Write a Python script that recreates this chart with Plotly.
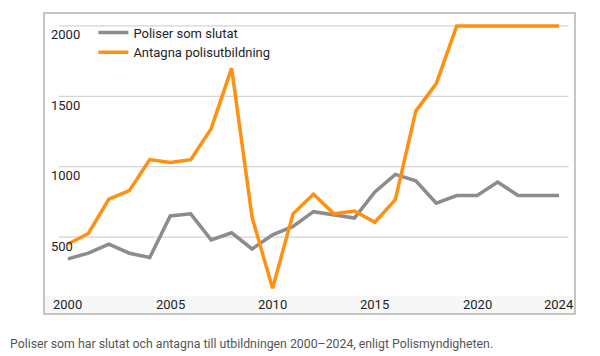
import plotly.graph_objects as go

years = list(range(2000, 2025))
slutat = [345, 385, 450, 385, 355, 650, 665, 480, 530, 415, 515, 575, 680, 660, 635, 820, 945, 900, 740, 795, 795, 890, 795, 795, 795]
antagna = [450, 525, 770, 830, 1050, 1030, 1050, 1270, 1700, 640, 135, 665, 805, 665, 685, 605, 765, 1395, 1590, 2000, 2000, 2000, 2000, 2000, 2000]

y_ticks = [500, 1000, 1500, 2000]
x_ticks = [2000, 2005, 2010, 2015, 2020, 2024]
caption = "Poliser som har slutat och antagna till utbildningen 2000\u20132024, enligt Polismyndigheten."

GRAY = "#8c8c8c"
ORANGE = "#ff9010"
FONT = "Roboto"

fig = go.Figure()
fig.add_trace(go.Scatter(x=years, y=slutat, mode="lines", name="Poliser som slutat",
                         line=dict(color=GRAY, width=3.5)))
fig.add_trace(go.Scatter(x=years, y=antagna, mode="lines", name="Antagna polisutbildning",
                         line=dict(color=ORANGE, width=3.5)))

shapes = []
shapes.append(dict(type="rect", xref="paper", yref="paper", x0=0, x1=1, y0=0, y1=0.06,
                   fillcolor="#f7f7f7", line=dict(width=0), layer="below"))
for v in y_ticks:
    shapes.append(dict(type="line", xref="paper", yref="y", x0=0.028, x1=0.988, y0=v, y1=v,
                       line=dict(color="#d4d4d4", width=1.3), layer="below"))
shapes.append(dict(type="rect", xref="paper", yref="paper", x0=0, x1=1, y0=0, y1=1,
                   line=dict(color="#b4b4b4", width=1.5)))

annotations = []
for v in y_ticks:
    annotations.append(dict(x=0.009, xref="paper", y=v, yref="y", text=str(v), showarrow=False,
                            xanchor="left", yanchor="middle", yshift=-9,
                            font=dict(family=FONT, size=13, color="#1e1e1e")))
for t in x_ticks:
    annotations.append(dict(x=t, xref="x", y=0.03, yref="paper", text=str(t), showarrow=False,
                            xanchor="center", yanchor="middle",
                            font=dict(family=FONT, size=13, color="#1e1e1e")))
annotations.append(dict(x=-36/531, xref="paper", y=-30/301, yref="paper", text=caption, showarrow=False,
                        xanchor="left", yanchor="middle",
                        font=dict(family=FONT, size=12.3, color="#555555")))

fig.update_layout(
    width=600, height=356,
    margin=dict(l=36, r=33, t=5, b=50),
    paper_bgcolor="white", plot_bgcolor="white",
    xaxis=dict(range=[1998.83, 2024.78], showgrid=False, zeroline=False, showticklabels=False,
               showline=False, fixedrange=True),
    yaxis=dict(range=[-47, 2092], showgrid=False, zeroline=False, showticklabels=False,
               showline=False, fixedrange=True),
    legend=dict(x=0.093, y=0.985, xanchor="left", yanchor="top", bgcolor="rgba(0,0,0,0)",
                font=dict(family=FONT, size=13, color="#1e1e1e"), tracegroupgap=0,
                itemwidth=30),
    shapes=shapes,
    annotations=annotations,
    showlegend=True,
)

fig.write_html("out.html")
